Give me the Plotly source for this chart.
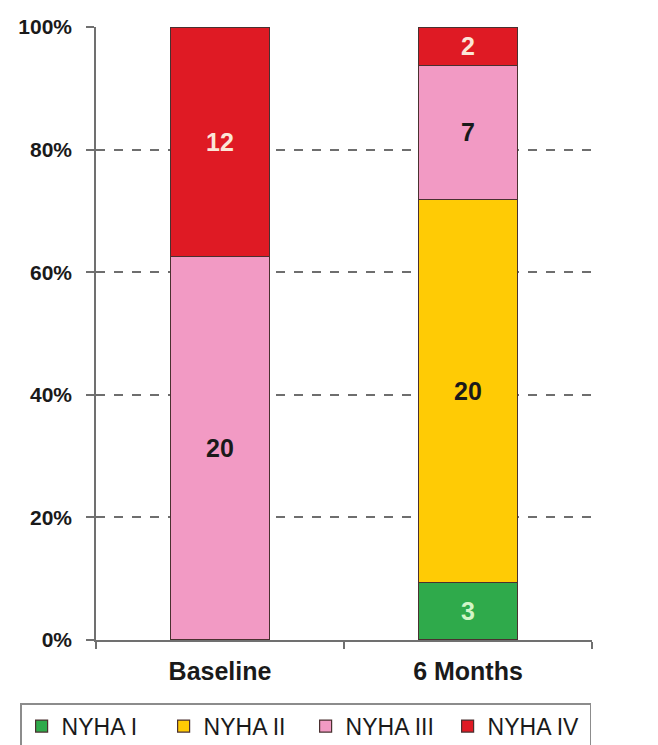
import plotly.graph_objects as go

# Patients per NYHA functional class at each visit
visits = ["Baseline", "6 Months"]
classes = ["NYHA I", "NYHA II", "NYHA III", "NYHA IV"]
nyha_i = [None, 3]
nyha_ii = [None, 20]
nyha_iii = [20, 7]
nyha_iv = [12, 2]
y_ticks = [0, 20, 40, 60, 80, 100]
y_tick_text = ["0%", "20%", "40%", "60%", "80%", "100%"]

series = [nyha_i, nyha_ii, nyha_iii, nyha_iv]
fills = ["#2FAA4B", "#FFCB05", "#F29AC4", "#DF1A24"]
label_colors = ["#D2F5C8", "#1A1A1A", "#1A1A1A", "#FBE6D8"]

fig = go.Figure()
for name, vals, fill, lc in zip(classes, series, fills, label_colors):
    fig.add_trace(go.Bar(
        name=name,
        x=visits,
        y=vals,
        width=0.4,
        marker=dict(color=fill, line=dict(color="#4A3030", width=1.2)),
        text=[str(v) if v else "" for v in vals],
        textposition="inside",
        insidetextanchor="middle",
        textangle=0,
        textfont=dict(family="Liberation Sans, Arial, sans-serif", size=25,
                      color=lc, weight="bold"),
        hoverinfo="skip",
    ))

fig.update_layout(
    width=658,
    height=745,
    margin=dict(l=96, r=66, t=27, b=105, autoexpand=False),
    barmode="stack",
    barnorm="percent",
    paper_bgcolor="white",
    plot_bgcolor="white",
    font=dict(family="Liberation Sans, Arial, sans-serif", color="#1A1A1A"),
    showlegend=True,
    legend=dict(
        orientation="h",
        traceorder="normal",
        x=-0.153, xanchor="left",
        y=-0.103, yanchor="top",
        bgcolor="white",
        bordercolor="#8C8C8C",
        borderwidth=1.5,
        entrywidth=97,
        entrywidthmode="pixels",
        font=dict(family="Liberation Sans Narrow, Liberation Sans, sans-serif",
                  size=23, color="#1A1A1A"),
    ),
    xaxis=dict(
        showline=True, linecolor="#707070", linewidth=1.5,
        ticks="outside", tickson="boundaries", ticklen=7, tickcolor="#707070",
        tickwidth=1.5,
        showgrid=False,
        tickfont=dict(size=25, weight="bold", color="#1A1A1A"),
        ticklabelstandoff=8,
    ),
    yaxis=dict(
        range=[0, 100],
        tickvals=y_ticks,
        ticktext=y_tick_text,
        showline=True, linecolor="#707070", linewidth=1.5,
        ticks="outside", ticklen=8, tickcolor="#707070", tickwidth=1.5,
        showgrid=True, gridcolor="#6E6E6E", gridwidth=1.6, griddash="dash",
        zeroline=False,
        tickfont=dict(size=21, weight="bold", color="#1A1A1A"),
        ticklabelstandoff=10,
    ),
)

fig.write_html("out.html")
